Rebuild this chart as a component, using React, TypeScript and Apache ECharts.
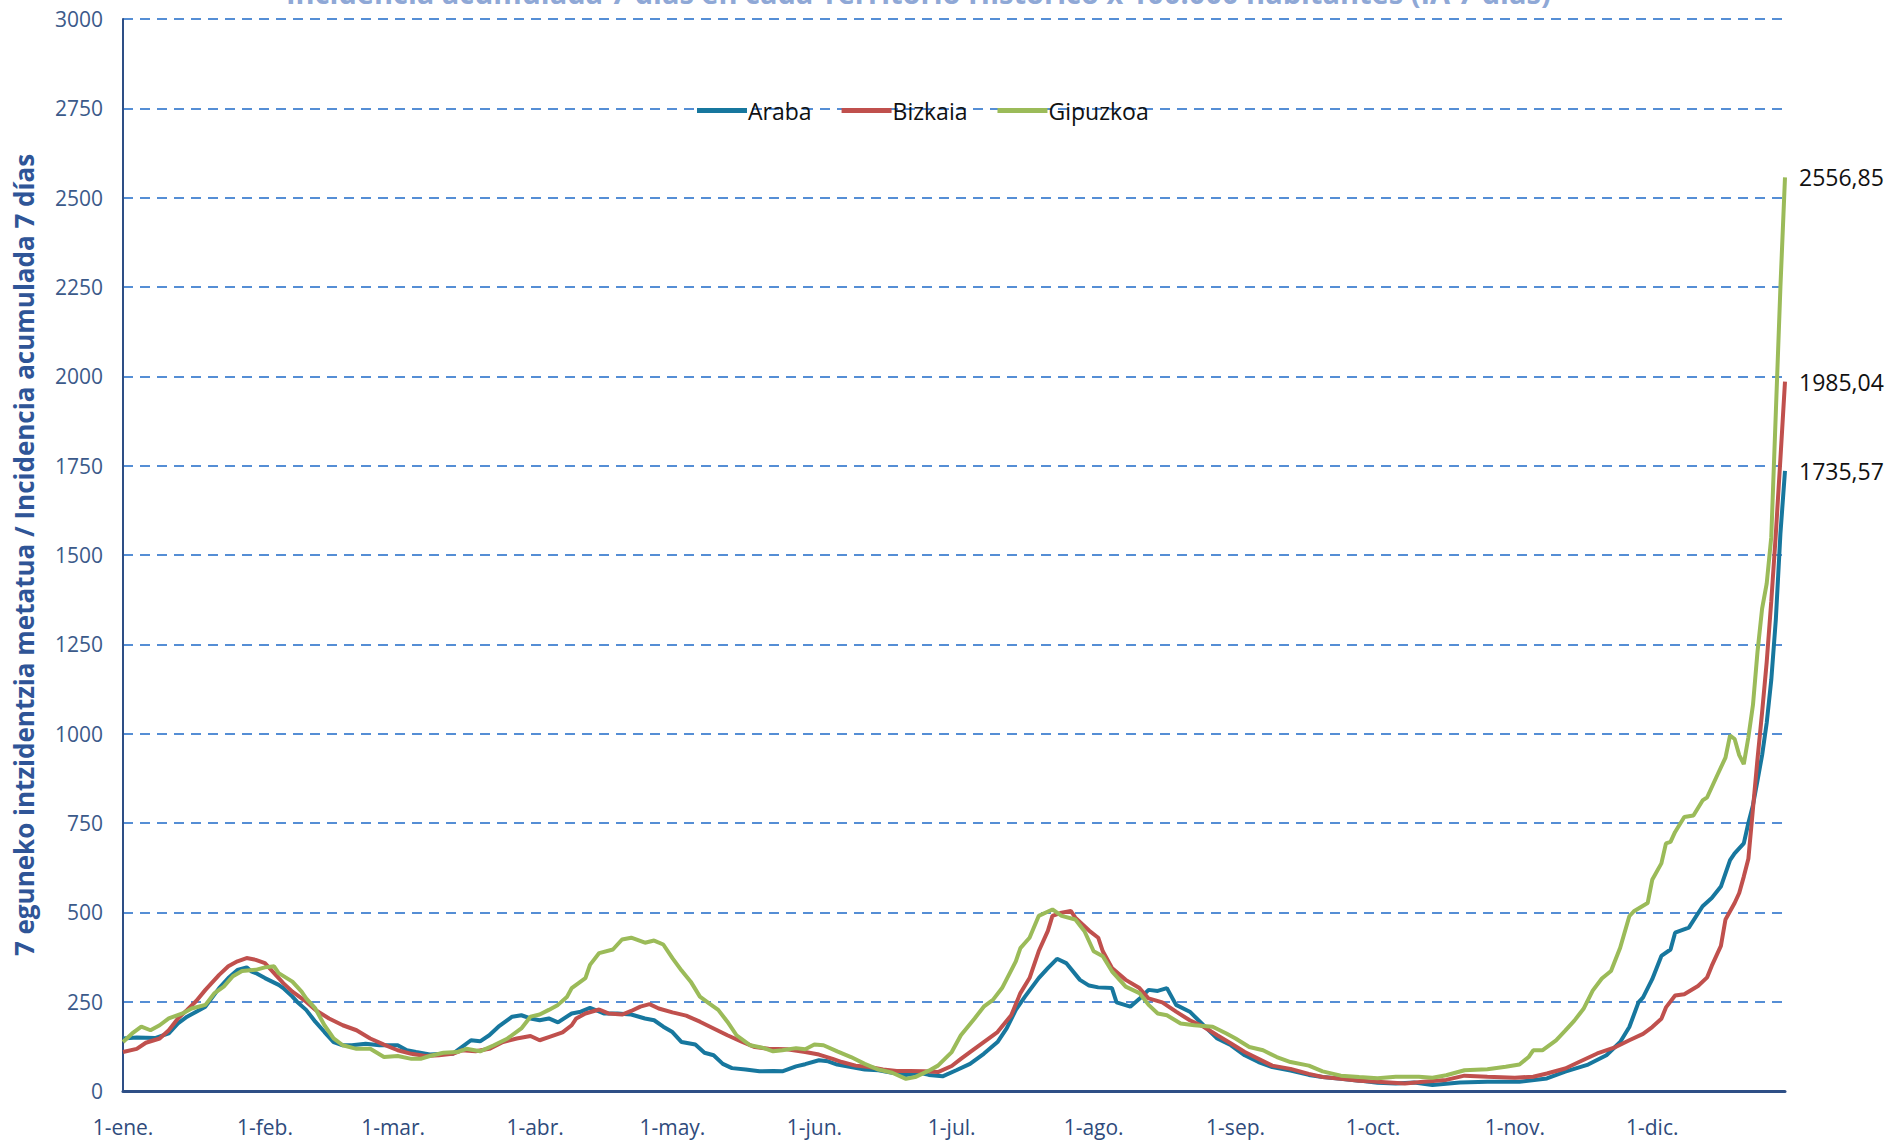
import React, { useEffect, useRef } from "react";
import * as echarts from "echarts";

// ---- Data (day index from 1 January, value = 7-day incidence per 100.000) ----
const MONTHS = ["ene", "feb", "mar", "abr", "may", "jun", "jul", "ago", "sep", "oct", "nov", "dic"];
const MONTH_DAYS = [31, 28, 31, 30, 31, 30, 31, 31, 30, 31, 30, 31];
const LAST_DAY = 363; // 30-dic.

const SERIES_NAMES = ["Araba", "Bizkaia", "Gipuzkoa"];

const arabaPoints: [number, number][] = [
  [0,147],[3,150],[7,148],[10,161],[12,189],[14,208],[16,222],[18,236],[21,288],[23,316],[25,339],[27,346],[28,335],[29,330],[31,316],[34,297],[35,288],[37,264],[38,250],[40,227],[42,194],[44,165],[46,137],[48,128],[50,128],[53,132],[56,128],[60,128],[62,114],[64,109],[67,102],[70,104],[72,104],[74,123],[76,142],[78,139],[80,156],[82,180],[85,208],[87,212],[89,203],[91,198],[93,203],[95,192],[98,217],[100,222],[102,233],[105,217],[108,217],[111,214],[114,203],[116,198],[118,180],[120,165],[122,137],[125,130],[127,107],[129,100],[131,76],[133,64],[136,60],[139,55],[142,56],[144,55],[147,69],[149,75],[152,86],[154,83],[156,74],[159,67],[162,60],[165,58],[168,51],[171,45],[174,51],[176,45],[179,41],[182,58],[185,76],[188,104],[191,137],[193,175],[195,227],[197,264],[200,316],[202,344],[204,370],[206,358],[209,311],[211,295],[213,290],[216,288],[217,248],[220,236],[222,258],[224,283],[226,280],[228,288],[230,241],[233,222],[236,184],[239,147],[242,128],[245,100],[248,81],[251,67],[255,57],[259,45],[262,39],[266,34],[270,29],[274,23],[278,21],[282,24],[286,17],[292,24],[298,26],[305,26],[311,35],[315,54],[320,74],[324,100],[327,137],[329,179],[331,248],[332,262],[334,313],[336,378],[338,396],[339,443],[342,457],[345,517],[347,540],[349,572],[351,646],[352,665],[354,693],[355,750],[356,800],[357,869],[358,940],[359,1030],[360,1150],[361,1320],[362,1560],[363,1735.57]
];

const bizkaiaPoints: [number, number][] = [
  [0,109],[3,118],[5,135],[8,147],[10,170],[12,203],[14,227],[16,252],[18,283],[21,325],[23,349],[25,363],[27,372],[29,367],[31,358],[33,330],[35,302],[37,278],[40,250],[42,227],[45,203],[48,184],[51,170],[54,147],[57,130],[60,114],[63,104],[66,98],[69,100],[72,104],[74,114],[77,111],[80,118],[83,137],[86,147],[89,154],[91,142],[93,151],[96,164],[98,184],[99,203],[101,217],[104,228],[106,217],[109,214],[111,224],[113,236],[115,243],[117,231],[120,220],[123,211],[126,194],[129,175],[132,156],[135,139],[138,123],[141,118],[145,117],[149,109],[152,102],[155,90],[157,81],[160,71],[163,67],[166,60],[169,56],[172,56],[175,55],[178,53],[181,70],[183,90],[185,109],[188,137],[191,165],[194,212],[196,274],[198,316],[200,391],[202,448],[203,490],[205,499],[207,504],[208,485],[211,449],[213,429],[214,391],[216,344],[219,311],[222,288],[224,259],[227,248],[230,222],[233,198],[236,180],[239,156],[242,133],[245,109],[248,90],[251,71],[255,62],[259,48],[262,39],[266,34],[270,29],[274,26],[280,21],[284,26],[289,31],[293,43],[298,40],[304,37],[308,40],[311,49],[315,63],[318,81],[322,105],[326,123],[329,142],[332,160],[334,179],[336,202],[337,234],[339,267],[341,271],[344,294],[346,318],[347,350],[349,406],[350,480],[352,526],[353,554],[354,600],[355,650],[356,790],[357,930],[358,1060],[359,1200],[360,1370],[361,1560],[362,1770],[363,1985.04]
];

const gipuzkoaPoints: [number, number][] = [
  [0,137],[2,161],[4,180],[6,170],[8,184],[10,203],[13,217],[15,231],[18,241],[20,274],[22,292],[24,321],[26,336],[29,339],[31,346],[33,349],[34,330],[37,306],[39,278],[40,259],[42,231],[44,184],[46,147],[48,128],[51,118],[54,118],[57,95],[60,98],[63,90],[65,90],[67,98],[70,107],[73,109],[75,118],[78,111],[81,128],[84,147],[87,175],[89,208],[91,214],[93,227],[95,241],[97,264],[98,288],[101,316],[102,353],[104,386],[107,396],[109,424],[111,429],[114,415],[116,421],[118,410],[120,372],[122,337],[124,306],[126,264],[128,245],[130,227],[132,194],[134,156],[137,128],[140,120],[142,111],[144,114],[147,120],[149,117],[151,130],[153,128],[156,111],[159,95],[162,76],[165,60],[168,51],[171,34],[173,39],[176,57],[178,71],[181,109],[183,156],[186,203],[188,236],[190,255],[192,288],[195,363],[196,400],[198,429],[200,490],[203,508],[205,490],[208,480],[210,447],[212,391],[214,377],[216,335],[219,292],[222,274],[224,241],[226,217],[228,212],[231,189],[234,184],[238,180],[241,161],[243,147],[246,123],[249,114],[252,95],[255,81],[259,71],[262,55],[266,43],[270,39],[274,36],[278,40],[283,40],[286,37],[289,44],[293,58],[298,61],[302,68],[305,74],[307,95],[308,114],[310,114],[313,142],[315,169],[317,197],[319,230],[321,281],[323,315],[325,336],[327,401],[329,489],[330,503],[333,526],[334,591],[336,637],[337,693],[338,697],[339,725],[341,767],[343,771],[345,813],[346,822],[348,878],[350,933],[351,995],[352,985],[353,940],[354,915],[355,990],[356,1080],[357,1230],[358,1350],[359,1420],[360,1550],[361,1900],[362,2250],[363,2556.85]
];

const SERIES_POINTS = [arabaPoints, bizkaiaPoints, gipuzkoaPoints];
const SERIES_COLORS = ["#17779E", "#C0504D", "#9BBB59"];

const TITLE = "Incidencia acumulada 7 días en cada Territorio Histórico x 100.000 habitantes (IA 7 días)";
const Y_NAME = "7 eguneko intzidentzia metatua / Incidencia acumulada 7 días";

function buildCategories(): string[] {
  const out: string[] = [];
  for (let m = 0; m < 12; m++) {
    for (let d = 1; d <= MONTH_DAYS[m]; d++) {
      if (out.length > LAST_DAY) return out;
      out.push(`${d}-${MONTHS[m]}.`);
    }
  }
  return out;
}

function toSeriesData(points: [number, number][]): (number | null)[] {
  const arr: (number | null)[] = new Array(LAST_DAY + 1).fill(null);
  points.forEach(([d, v]) => {
    arr[d] = v;
  });
  return arr;
}

const FONT = "'Open Sans', 'Noto Sans', sans-serif";

export default function App() {
  const ref = useRef<HTMLDivElement>(null);

  useEffect(() => {
    document.body.style.margin = "0";
    document.body.style.overflow = "hidden";
    if (!ref.current) return;
    const chart = echarts.init(ref.current, undefined, { renderer: "svg" });
    const categories = buildCategories();

    chart.setOption({
      animation: false,
      backgroundColor: "#ffffff",
      textStyle: { fontFamily: FONT },
      title: {
        text: TITLE,
        left: 281,
        top: -27,
        textStyle: { fontFamily: FONT, fontSize: 29, fontWeight: "bold", color: "#8FA8D6" },
      },
      legend: {
        data: SERIES_NAMES,
        left: 692,
        top: 94,
        itemWidth: 50,
        itemHeight: 14,
        itemGap: 30,
        icon: "path://M0,0 L50,0 L50,5 L0,5 Z",
        textStyle: { fontFamily: FONT, fontSize: 23, color: "#111111", padding: [0, 0, 0, -4] },
      },
      grid: { left: 123, right: 112, top: 19, bottom: 50, containLabel: false },
      xAxis: {
        type: "category",
        data: categories,
        boundaryGap: false,
        axisLine: { lineStyle: { color: "#2E4F86", width: 3 } },
        axisTick: { show: false },
        axisLabel: {
          interval: (_i: number, v: string) => v.startsWith("1-"),
          color: "#2F4B7C",
          fontFamily: FONT,
          fontSize: 21,
          margin: 25,
        },
        splitLine: { show: false },
      },
      yAxis: {
        type: "value",
        min: 0,
        max: 3000,
        interval: 250,
        name: Y_NAME,
        nameLocation: "middle",
        nameGap: 86,
        nameTextStyle: { fontFamily: FONT, fontSize: 26, fontWeight: "bold", color: "#2F5597" },
        axisLine: { show: true, lineStyle: { color: "#2E4F86", width: 2 } },
        axisTick: { show: false },
        axisLabel: {
          color: "#3B5A8A",
          fontFamily: FONT,
          fontSize: 21,
          margin: 20,
          formatter: (v: number) => String(v),
        },
        splitLine: { lineStyle: { color: "#558ED5", width: 2, type: [10, 7] } },
      },
      series: SERIES_NAMES.map((name, i) => ({
        name,
        type: "line",
        data: toSeriesData(SERIES_POINTS[i]),
        connectNulls: true,
        symbol: "none",
        showSymbol: false,
        color: SERIES_COLORS[i],
        lineStyle: { color: SERIES_COLORS[i], width: 4 },
        endLabel: {
          show: true,
          distance: 14,
          color: "#111111",
          fontFamily: FONT,
          fontSize: 23,
          formatter: (p: any) => Number(p.value).toFixed(2).replace(".", ","),
        },
        z: 2 + i,
      })),
    });

    return () => chart.dispose();
  }, []);

  return <div ref={ref} style={{ width: 1897, height: 1141 }} />;
}
